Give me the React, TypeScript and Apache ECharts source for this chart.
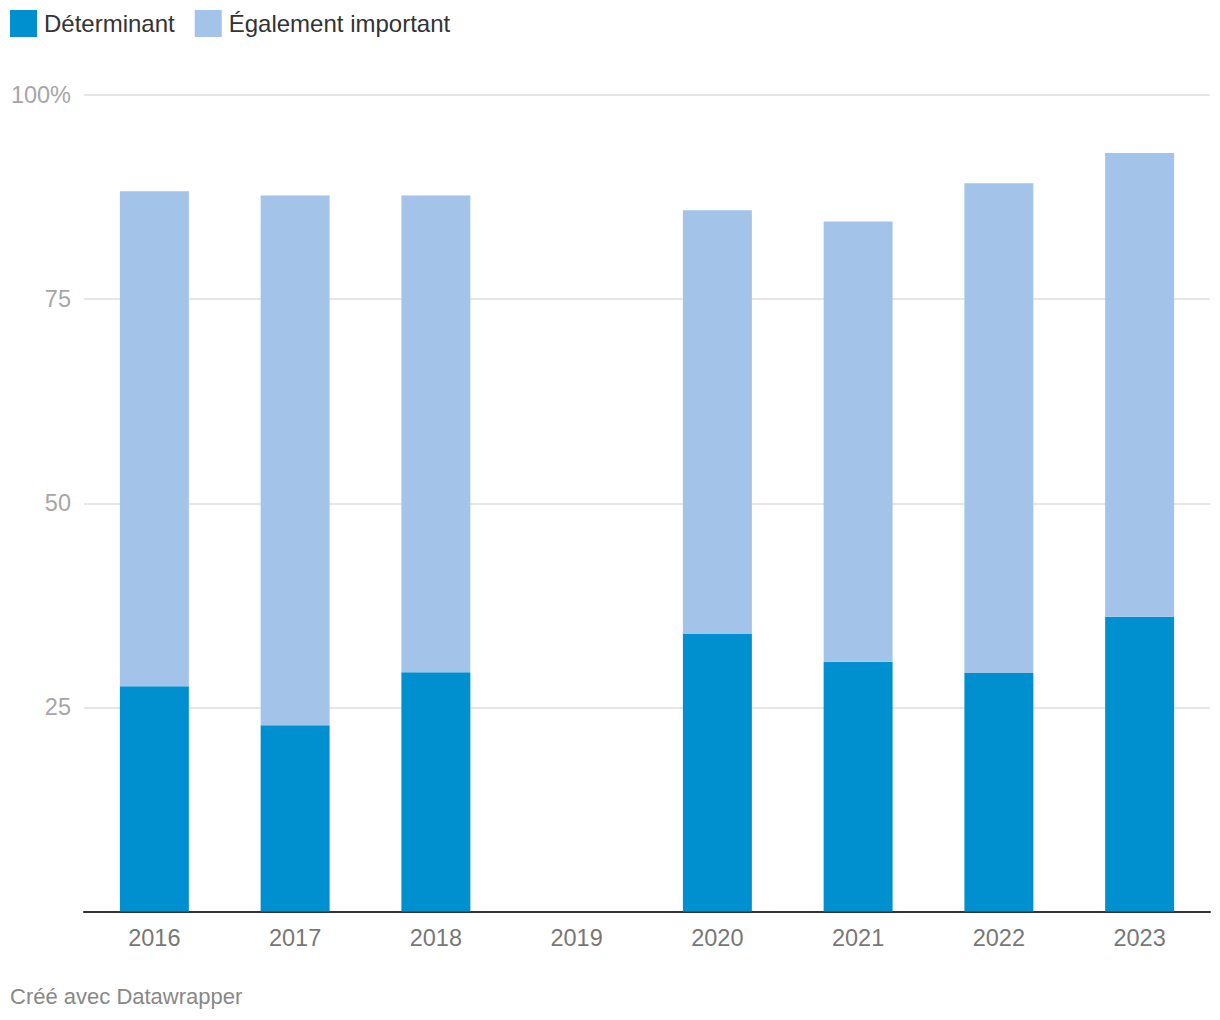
import React, { useEffect, useRef } from "react";
import * as echarts from "echarts";

const years = ["2016", "2017", "2018", "2019", "2020", "2021", "2022", "2023"];
const determinant: (number | null)[] = [27.6, 22.8, 29.3, null, 34.0, 30.6, 29.2, 36.1];
const egalement: (number | null)[] = [60.6, 64.9, 58.4, null, 51.9, 53.9, 60.0, 56.8];
const yTicks = [0, 25, 50, 75, 100];

const FONT = "'Liberation Sans', Arial, Helvetica, sans-serif";

export default function App() {
  const ref = useRef<HTMLDivElement>(null);
  useEffect(() => {
    if (!ref.current) return;
    const chart = echarts.init(ref.current, null, { renderer: "svg" });
    chart.setOption({
      animation: false,
      textStyle: { fontFamily: FONT },
      legend: {
        left: 5,
        top: 5,
        icon: "rect",
        itemWidth: 27,
        itemHeight: 27,
        itemGap: 20,
        textStyle: { fontSize: 24, color: "#333333", fontFamily: FONT, padding: [0, 0, 0, 2] },
        data: ["Déterminant", "Également important"],
      },
      grid: { left: 84, right: 10, top: 95, bottom: 1020 - 911.5, containLabel: false },
      xAxis: {
        type: "category",
        data: years,
        axisTick: { show: false },
        axisLine: { show: true, lineStyle: { color: "#333333", width: 2 } },
        axisLabel: { color: "#777777", fontSize: 23.5, fontFamily: FONT, margin: 14 },
      },
      yAxis: {
        type: "value",
        min: yTicks[0],
        max: yTicks[yTicks.length - 1],
        interval: 25,
        axisLine: { show: false },
        axisTick: { show: false },
        splitLine: { show: true, lineStyle: { color: "#e6e6e6", width: 2 } },
        axisLabel: {
          color: "#a6a6a6",
          fontSize: 23.5,
          fontFamily: FONT,
          margin: 13,
          formatter: (v: number) => (v === 100 ? "100%" : v === 0 ? "" : String(v)),
        },
      },
      series: [
        {
          name: "Déterminant",
          type: "bar",
          stack: "total",
          barWidth: "49%",
          itemStyle: { color: "#008fcf" },
          data: determinant.map((v) => (v == null ? "-" : v)),
        },
        {
          name: "Également important",
          type: "bar",
          stack: "total",
          barWidth: "49%",
          itemStyle: { color: "#a3c4e8" },
          data: egalement.map((v) => (v == null ? "-" : v)),
        },
      ],
      graphic: [
        {
          type: "text",
          left: 10,
          top: 985,
          style: { text: "Créé avec Datawrapper", fill: "#888888", fontSize: 22, fontFamily: FONT },
        },
      ],
    });
    return () => chart.dispose();
  }, []);
  return (
    <div
      ref={ref}
      style={{ position: "fixed", left: 0, top: 0, width: 1220, height: 1020, background: "#ffffff" }}
    />
  );
}
